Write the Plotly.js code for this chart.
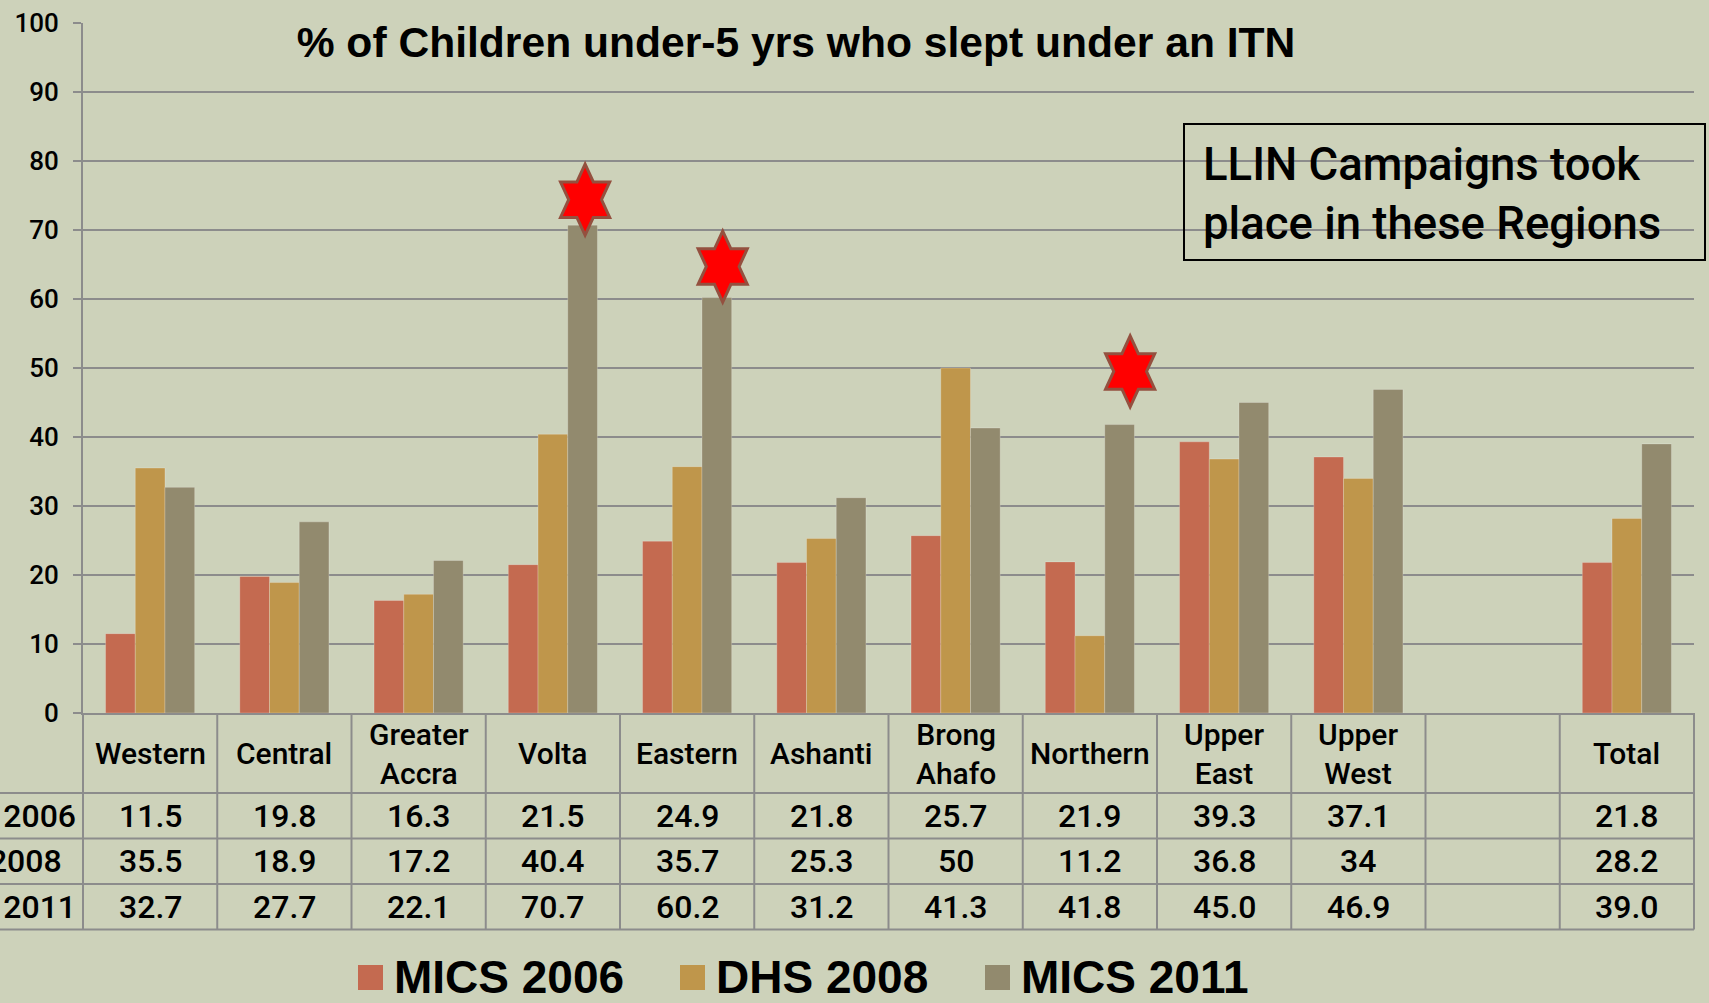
<!DOCTYPE html>
<html><head><meta charset="utf-8">
<script src="https://cdn.plot.ly/plotly-3.0.1.min.js"></script>
<style>html,body{margin:0;padding:0;background:#CDD2BA;} #chart{width:1709px;height:1003px;}</style>
</head><body><div id="chart"></div>
<script>
// ---- data ----
const seriesNames = ['MICS 2006', 'DHS 2008', 'MICS 2011'];
const regions = ['Western', 'Central', 'Greater Accra', 'Volta', 'Eastern', 'Ashanti', 'Brong Ahafo', 'Northern', 'Upper East', 'Upper West', 'Total'];
const headerLabels = ['Western', 'Central', 'Greater<br>Accra', 'Volta', 'Eastern', 'Ashanti', 'Brong<br>Ahafo', 'Northern', 'Upper<br>East', 'Upper<br>West', 'Total'];
const axisCategories = ['Western', 'Central', 'Greater Accra', 'Volta', 'Eastern', 'Ashanti', 'Brong Ahafo', 'Northern', 'Upper East', 'Upper West', ' ', 'Total'];
const mics2006 = [11.5, 19.8, 16.3, 21.5, 24.9, 21.8, 25.7, 21.9, 39.3, 37.1, 21.8];
const dhs2008  = [35.5, 18.9, 17.2, 40.4, 35.7, 25.3, 50, 11.2, 36.8, 34, 28.2];
const mics2011 = [32.7, 27.7, 22.1, 70.7, 60.2, 31.2, 41.3, 41.8, 45.0, 46.9, 39.0];
const seriesValues = [mics2006, dhs2008, mics2011];
const yTicks = [0, 10, 20, 30, 40, 50, 60, 70, 80, 90, 100];
const starRegions = ['Volta', 'Eastern', 'Northern'];
const starLevels = [74.4, 64.7, 49.5];
const titleText = '% of Children under-5 yrs who slept under an ITN';
const boxText = 'LLIN Campaigns took<br>place in these Regions';

// ---- style ----
const colors = ['#C46A50', '#BF964B', '#928A6E'];
const bg = '#CDD2BA';
const gridCol = '#8C8C8C';
const decimals = [1, null, 1];
const starNudge = [0.24, 0.265, 0.30];
const W = 1709, H = 1003, ML = 83, MR = 15, MT = 23, MB = 290;
const PW = W - ML - MR, PH = H - MT - MB;
const px = p => (p - ML) / PW;
const py = p => (H - MB - p) / PH;
const nCat = axisCategories.length;
const FONT = 'Liberation Sans, Arial, sans-serif';
const MFONT = 'Roboto, Liberation Sans, Arial, sans-serif';

const traces = seriesNames.map((name, i) => ({
  type: 'bar', name: name, x: regions, y: seriesValues[i],
  marker: {color: colors[i], line: {color: 'rgba(255,255,255,0.22)', width: 1}},
  showlegend: false, hoverinfo: 'skip'
}));

const shapes = [];
const annotations = [];

// table grid
const rowLines = [793, 838.5, 884, 929.5];
rowLines.forEach(yp => shapes.push({type: 'line', xref: 'paper', yref: 'paper', x0: px(0), x1: 1, y0: py(yp), y1: py(yp), line: {color: gridCol, width: 2}}));
for (let k = 0; k <= nCat; k++) {
  shapes.push({type: 'line', xref: 'paper', yref: 'paper', x0: k / nCat, x1: k / nCat, y0: py(713), y1: py(929.5), line: {color: gridCol, width: 2}});
}
// header labels
regions.forEach((r, i) => annotations.push({xref: 'x', yref: 'paper', x: r, y: py(753.5), text: headerLabels[i], showarrow: false,
  font: {family: MFONT, size: 30, weight: 500, color: '#000'}, yanchor: 'middle'}));
// values
const rowCenters = [815.75, 861.25, 906.75];
seriesValues.forEach((vals, s) => {
  vals.forEach((v, i) => annotations.push({xref: 'x', yref: 'paper', x: regions[i], y: py(rowCenters[s]),
    text: decimals[s] === null ? String(v) : v.toFixed(decimals[s]), showarrow: false, yanchor: 'middle',
    font: {family: MFONT, size: 32, weight: 500, color: '#000'}}));
  annotations.push({xref: 'paper', yref: 'paper', x: px(-84), y: py(rowCenters[s]), xanchor: 'left', yanchor: 'middle',
    text: seriesNames[s], showarrow: false, font: {family: MFONT, size: 32, weight: 500, color: '#000'}});
});

// stars
const starPath = (() => {
  const R = 35.5, sx = 0.8, r = R / Math.sqrt(3);
  let d = '';
  for (let j = 0; j < 12; j++) {
    const ang = (90 + j * 30) * Math.PI / 180;
    const rad = j % 2 === 0 ? R : r;
    d += (j === 0 ? 'M' : 'L') + (rad * Math.cos(ang) * sx).toFixed(2) + ',' + (rad * Math.sin(ang)).toFixed(2);
  }
  return d + 'Z';
})();
starRegions.forEach((reg, i) => shapes.push({type: 'path', xref: 'x', yref: 'y', xsizemode: 'pixel', ysizemode: 'pixel',
  xanchor: axisCategories.indexOf(reg) + starNudge[i], yanchor: starLevels[i], path: starPath,
  fillcolor: '#FF0000', line: {color: '#94503F', width: 3}, layer: 'above'}));

// text box
shapes.push({type: 'rect', xref: 'paper', yref: 'paper', x0: px(1184), x1: px(1705), y0: py(124), y1: py(260),
  line: {color: '#000', width: 2}, fillcolor: 'rgba(0,0,0,0)', layer: 'above'});
annotations.push({xref: 'paper', yref: 'paper', x: px(1201), y: py(194), xanchor: 'left', yanchor: 'middle', align: 'left',
  text: boxText, showarrow: false, font: {family: MFONT, size: 45.5, weight: 500, color: '#000'}});

// legend
const legendX = [358, 680, 985];
seriesNames.forEach((name, i) => {
  shapes.push({type: 'rect', xref: 'paper', yref: 'paper', x0: px(legendX[i]), x1: px(legendX[i] + 25), y0: py(965), y1: py(990),
    fillcolor: colors[i], line: {width: 0}});
  annotations.push({xref: 'paper', yref: 'paper', x: px(legendX[i] + 34), y: py(977), xanchor: 'left', yanchor: 'middle',
    text: name, showarrow: false, font: {family: FONT, size: 46, weight: 'bold', color: '#000'}});
});

const layout = {
  width: W, height: H,
  margin: {l: ML, r: MR, t: MT, b: MB, pad: 0},
  paper_bgcolor: bg, plot_bgcolor: bg,
  title: {text: titleText, x: 796 / W, xanchor: 'center', y: 1 - 42 / H, yanchor: 'middle',
    font: {family: FONT, size: 42.6, weight: 'bold', color: '#000'}},
  barmode: 'group', bargap: 0.336, bargroupgap: 0,
  xaxis: {type: 'category', categoryorder: 'array', categoryarray: axisCategories, range: [-0.5, nCat - 0.5],
    showticklabels: false, ticks: '', showgrid: false, showline: true, linecolor: gridCol, linewidth: 2, zeroline: false, fixedrange: true},
  yaxis: {range: [0, 100], tickvals: yTicks, showgrid: true, gridcolor: gridCol, gridwidth: 2, zeroline: false,
    showline: true, linecolor: gridCol, linewidth: 2, ticks: 'outside', ticklen: 8, tickwidth: 2, tickcolor: gridCol,
    tickfont: {family: MFONT, size: 26, weight: 500, color: '#000'}, ticklabelstandoff: 9, fixedrange: true},
  shapes: shapes, annotations: annotations, showlegend: false
};

Plotly.newPlot('chart', traces, layout, {displayModeBar: false, staticPlot: true});
</script></body></html>
